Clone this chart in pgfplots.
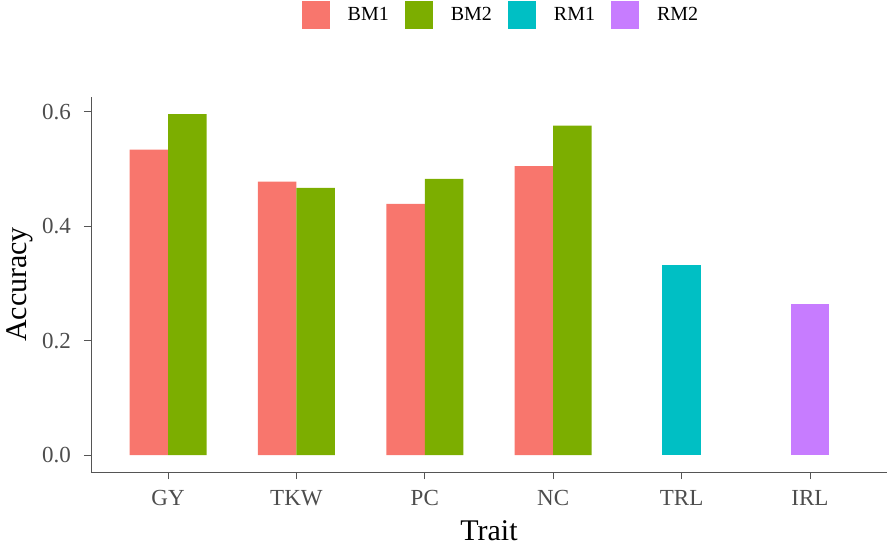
\documentclass[border=0pt]{standalone}
\usepackage{fontspec}
\setmainfont{Liberation Serif}
\usepackage{pgfplots}
\pgfplotsset{compat=1.18}
\definecolor{c1}{HTML}{F8766D}
\definecolor{c2}{HTML}{7CAE00}
\definecolor{c3}{HTML}{00BFC4}
\definecolor{c4}{HTML}{C77CFF}
\definecolor{axgray}{HTML}{555555}
\definecolor{txtgray}{HTML}{4D4D4D}
\begin{document}
\begin{tikzpicture}
\useasboundingbox (-91pt,-75pt) rectangle (805pt,472pt);
\begin{axis}[
  at={(0pt,0pt)}, anchor=south west,
  scale only axis, width=796pt, height=375pt,
  xmin=-0.6, xmax=5.6, ymin=-0.0297, ymax=0.626,
  axis x line*=bottom, axis y line*=left,
  axis line style={axgray, line width=0.9pt},
  tick style={axgray, line width=0.9pt},
  tick align=outside, major tick length=7pt,
  xtick={0,1,2,3,4,5}, xticklabels={GY,TKW,PC,NC,TRL,IRL},
  ytick={0,0.2,0.4,0.6}, yticklabels={0.0,0.2,0.4,0.6},
  ticklabel style={font=\fontsize{23}{27}\selectfont, text=txtgray},
  yticklabel style={inner xsep=0pt, xshift=-13pt},
  xticklabel style={inner ysep=0pt, yshift=-11pt},
  xlabel={Trait}, ylabel={Accuracy},
  label style={font=\fontsize{30}{34}\selectfont, text=black},
  xlabel style={at={(axis description cs:0.5,0)}, anchor=center, yshift=-59pt},
  ylabel style={at={(axis description cs:-0.0892,0.5)}, anchor=center},
  ybar, bar width=0.3, bar shift=0pt,
  legend columns=4,
  legend image code/.code={\fill[#1] (0pt,-14pt) rectangle (28pt,14pt);},
  legend style={at={(axis description cs:0.515,1)}, anchor=center, yshift=82pt,
    draw=none, fill=none, font=\fontsize{20}{23}\selectfont,
    /tikz/every odd column/.append style={column sep=16pt},
    /tikz/every even column/.append style={column sep=14pt}},
]
\addplot[fill=c1, draw=none] coordinates {(-0.15,0.534) (0.85,0.478) (1.85,0.439) (2.85,0.505)};
\addlegendentry{BM1}
\addplot[fill=c2, draw=none] coordinates {(0.15,0.596) (1.15,0.467) (2.15,0.483) (3.15,0.576)};
\addlegendentry{BM2}
\addplot[fill=c3, draw=none] coordinates {(4,0.332)};
\addlegendentry{RM1}
\addplot[fill=c4, draw=none] coordinates {(5,0.264)};
\addlegendentry{RM2}
\end{axis}
\end{tikzpicture}
\end{document}
